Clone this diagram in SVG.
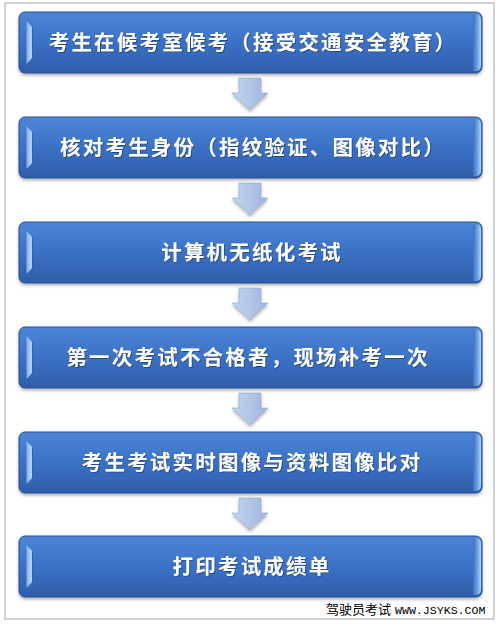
<svg xmlns="http://www.w3.org/2000/svg" width="500" height="628" viewBox="0 0 500 628">
<defs>
<linearGradient id="boxG" x1="0" y1="0" x2="0" y2="1">
<stop offset="0" stop-color="#4d86d8"/>
<stop offset="0.5" stop-color="#3b71c4"/>
<stop offset="1" stop-color="#2f5eab"/>
</linearGradient>
<linearGradient id="leftB" x1="0" y1="0" x2="1" y2="0">
<stop offset="0" stop-color="#7eaee8"/>
<stop offset="1" stop-color="#c0ddfa"/>
</linearGradient>
<linearGradient id="rightB" x1="0" y1="0" x2="1" y2="0">
<stop offset="0" stop-color="#3a6fc0"/>
<stop offset="0.6" stop-color="#72a6e8"/>
<stop offset="1" stop-color="#b0d4f9"/>
</linearGradient>
<linearGradient id="arrG" x1="0" y1="0" x2="1" y2="0">
<stop offset="0" stop-color="#c6d6ef"/>
<stop offset="1" stop-color="#9db4dd"/>
</linearGradient>
<filter id="sh" x="-5%" y="-20%" width="110%" height="150%">
<feDropShadow dx="0" dy="2" stdDeviation="1.5" flood-color="#000" flood-opacity="0.3"/>
</filter>
<filter id="tsh" x="-5%" y="-20%" width="110%" height="150%">
<feDropShadow dx="1" dy="1" stdDeviation="0.6" flood-color="#1a3560" flood-opacity="0.6"/>
</filter>
<g id="box">
<rect x="19" y="0" width="463" height="61" rx="6" fill="url(#boxG)" stroke="#2a4f8d" stroke-width="1"/>
<path d="M473,2 L476,2 Q481,2 481,8 L481,53 Q481,59 476,59 L473,59 Z" fill="url(#rightB)"/>
<polygon points="26.5,9 32,15 32,46 26.5,52" fill="url(#leftB)"/>
<line x1="32.4" y1="15" x2="32.4" y2="46" stroke="#2d5aa0" stroke-width="0.8"/>
</g>
<path id="arrow" d="M239,0 L261,0 L261,15 L268,15 L250,32 L232,15 L239,15 Z"/>
</defs>
<style>
.t{font-family:"Noto Sans CJK SC","Noto Sans",sans-serif;font-size:20.5px;font-weight:bold;fill:#ffffff;text-anchor:middle;letter-spacing:2.2px}
.arr{fill:url(#arrG);stroke:#92a9d3;stroke-width:0.6}
</style>
<rect x="5" y="3" width="489" height="616" fill="#ffffff" stroke="#a6a6a6" stroke-width="1"/>
<g id="connectors" filter="url(#sh)">
<use href="#arrow" class="arr" transform="translate(0,78)"/>
<use href="#arrow" class="arr" transform="translate(0,183)"/>
<use href="#arrow" class="arr" transform="translate(0,288)"/>
<use href="#arrow" class="arr" transform="translate(0,393)"/>
<use href="#arrow" class="arr" transform="translate(0,498)"/>
</g>
<g id="node1"><use href="#box" transform="translate(0,12)" filter="url(#sh)"/><text class="t" x="253" y="50" filter="url(#tsh)">考生在候考室候考（接受交通安全教育）</text></g>
<g id="node2"><use href="#box" transform="translate(0,117)" filter="url(#sh)"/><text class="t" x="253" y="155" filter="url(#tsh)">核对考生身份（指纹验证、图像对比）</text></g>
<g id="node3"><use href="#box" transform="translate(0,222)" filter="url(#sh)"/><text class="t" x="252" y="260" filter="url(#tsh)">计算机无纸化考试</text></g>
<g id="node4"><use href="#box" transform="translate(0,327)" filter="url(#sh)"/><text class="t" x="248" y="365" filter="url(#tsh)">第一次考试不合格者，现场补考一次</text></g>
<g id="node5"><use href="#box" transform="translate(0,432)" filter="url(#sh)"/><text class="t" x="252" y="470" filter="url(#tsh)">考生考试实时图像与资料图像比对</text></g>
<g id="node6"><use href="#box" transform="translate(0,536)" filter="url(#sh)"/><text class="t" x="252" y="574" filter="url(#tsh)">打印考试成绩单</text></g>
<g id="watermark">
<text x="326" y="614" font-family="Noto Sans CJK SC, sans-serif" font-size="13" fill="#000">驾驶员考试</text>
<text x="395" y="614" font-family="Liberation Mono, monospace" font-size="11.6" fill="#000">WWW.JSYKS.COM</text>
</g>
</svg>
